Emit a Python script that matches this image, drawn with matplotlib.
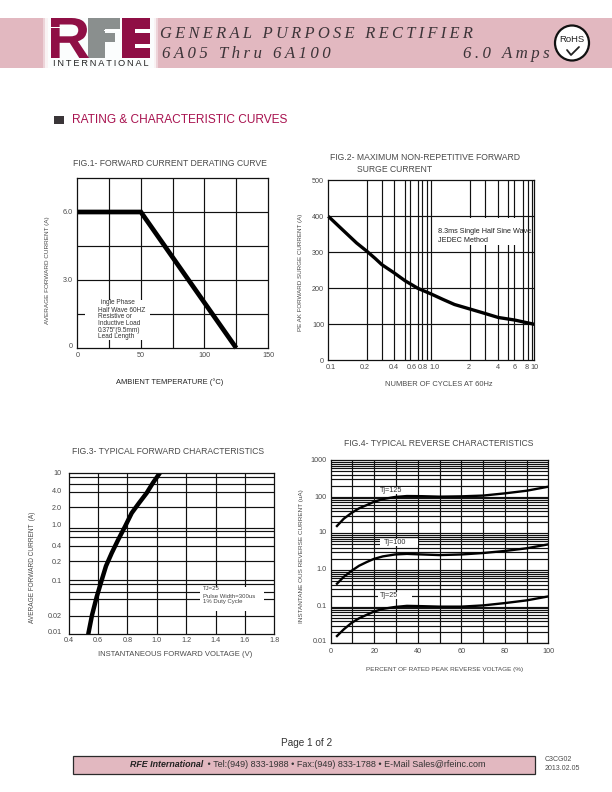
import matplotlib
matplotlib.use("Agg")
import matplotlib.pyplot as plt
from matplotlib.patches import Rectangle, Ellipse, PathPatch
from matplotlib.textpath import TextPath
from matplotlib.font_manager import FontProperties
from matplotlib.transforms import Affine2D

plt.rcParams['font.family'] = ['Liberation Sans', 'DejaVu Sans']

W, H = 612, 792
PINK = '#e2b8c0'
MAROON = '#8f0f45'
GREY = '#8a8f8e'
TXT = '#4a4a4a'

# ---------- data ----------
fig1_temp = [0, 50, 125]
fig1_current = [6.0, 6.0, 0.0]
fig1_xgrid = [25, 50, 75, 100, 125]
fig1_ygrid = [1.5, 3.0, 4.5, 6.0]
fig1_xticks = [0, 50, 100, 150]
fig1_xlabels = ['0', '50', '100', '150']
fig1_yticks = [0.1, 3.0, 6.0]
fig1_ylabels = ['0', '3.0', '6.0']

fig2_cycles = [0.1, 0.137, 0.188, 0.239, 0.285, 0.33, 0.435, 0.556, 0.74, 1.0, 1.3, 1.68, 2.4, 3.33, 4.46, 6.4, 10]
fig2_surge = [400, 363, 326, 302, 283, 266, 243, 221, 200, 184, 169, 155, 142, 130, 119, 112, 100]
fig2_xgrid = [0.239, 0.333, 0.435, 0.556, 0.62, 0.74, 0.82, 0.90, 1.0, 2.4, 3.33, 4.46, 5.6, 6.4, 7.7, 8.75, 9.55]
fig2_ygrid = [100, 200, 300, 400]
fig2_xticks = [0.105, 0.225, 0.43, 0.64, 0.83, 1.07, 2.3, 4.45, 6.4, 8.5, 10]
fig2_xlabels = ['0.1', '0.2', '0.4', '0.6', '0.8', '1.0', '2', '4', '6', '8', '10']
fig2_yticks = [0, 100, 200, 300, 400, 500]
fig2_ylabels = ['0', '100', '200', '300', '400', '500']

fig3_voltage = [0.533, 0.559, 0.591, 0.625, 0.654, 0.693, 0.736, 0.783, 0.829, 0.879, 0.931, 0.973, 1.022]
fig3_current = [0.01, 0.0228, 0.0499, 0.102, 0.185, 0.323, 0.563, 0.995, 1.786, 2.74, 4.2, 6.44, 10]
fig3_xgrid = [0.6, 0.8, 1.0, 1.2, 1.4, 1.6]
fig3_ygrid = [8.2, 6.07, 4.32, 2.27, 0.95, 0.815, 0.63, 0.43, 0.226, 0.1, 0.085, 0.062, 0.0447, 0.0222]
fig3_xticks = [0.4, 0.6, 0.8, 1.0, 1.2, 1.4, 1.6, 1.8]
fig3_xlabels = ['0.4', '0.6', '0.8', '1.0', '1.2', '1.4', '1.6', '1.8']
fig3_yticks = [0.0112, 0.0222, 0.1, 0.226, 0.436, 1.08, 2.27, 4.63, 10]
fig3_ylabels = ['0.01', '0.02', '0.1', '0.2', '0.4', '1.0', '2.0', '4.0', '10']

fig4_percent = [2.5, 6, 9.6, 13, 16.6, 19.8, 24, 29.6, 35, 42, 50, 60, 70, 80, 90, 100]
fig4_tj125 = [15, 25, 36, 48, 59, 72, 86, 98, 104, 103, 100, 102, 107, 123, 145, 187]
fig4_tj100 = [0.4, 0.65, 0.95, 1.3, 1.65, 2.0, 2.35, 2.65, 2.75, 2.65, 2.55, 2.65, 2.9, 3.3, 3.9, 5.0]
fig4_tj25 = [0.015, 0.024, 0.036, 0.048, 0.06, 0.073, 0.087, 0.098, 0.105, 0.103, 0.1, 0.1, 0.108, 0.125, 0.148, 0.19]
fig4_xgrid = [10, 20, 30, 40, 50, 60, 70, 80, 90]
fig4_mantissa = [1, 2, 3, 4, 5, 6, 7, 8, 9]
fig4_decades = [0.01, 0.1, 1, 10, 100]
fig4_xticks = [0, 20, 40, 60, 80, 100]
fig4_xlabels = ['0', '20', '40', '60', '80', '100']
fig4_yticks = [0.0118, 0.107, 1.11, 11.1, 100, 1000]
fig4_ylabels = ['0.01', '0.1', '1.0', '10', '100', '1000']

# ---------- figure and page overlay in pixel units ----------
fig = plt.figure(figsize=(W / 100, H / 100), dpi=100, facecolor='white')
page = fig.add_axes([0, 0, 1, 1], zorder=0)
page.set_xlim(0, W)
page.set_ylim(H, 0)
page.axis('off')


def make_axes(left, top, right, bottom):
    return fig.add_axes([left / W, 1 - bottom / H, (right - left) / W, (bottom - top) / H], zorder=1)


def spaced(s, gap='\u2009'):
    return gap.join(s)


def txt(x, y, s, size=5.4, ha='center', va='center', color=TXT, **kw):
    page.text(x, y, s, fontsize=size, ha=ha, va=va, color=color, **kw)


def glyph(ch, x0, y0, x1, y1, color):
    tp = TextPath((0, 0), ch, size=10, prop=FontProperties(family='Liberation Sans', weight='bold'))
    bb = tp.get_extents()
    tr = (Affine2D().translate(-bb.x0, -bb.y0)
          .scale((x1 - x0) / bb.width, -(y1 - y0) / bb.height)
          .translate(x0, y1))
    page.add_patch(PathPatch(tr.transform_path(tp), fc=color, ec='none'))


# header band
page.add_patch(Rectangle((0, 18), W, 50, fc=PINK, ec='none'))
page.add_patch(Rectangle((43, 18), 115, 50, fc='white', ec='none', alpha=0.4))
page.add_patch(Rectangle((45, 18), 111, 50, fc='white', ec='none', alpha=0.7))
page.add_patch(Rectangle((48, 18), 106, 50, fc='#fbfdfd', ec='none'))
# RFE logo
page.add_patch(Rectangle((88, 18), 32, 11, fc=GREY, ec='none'))
page.add_patch(Rectangle((88, 18), 17, 40, fc=GREY, ec='none'))
page.add_patch(Rectangle((105, 33), 10, 9, fc=GREY, ec='none'))
page.add_patch(Rectangle((104, 30), 16, 1.2, fc='white', ec='none'))
glyph('R', 51, 18, 89, 58, MAROON)
page.add_patch(Rectangle((51, 27), 13, 1, fc='white', ec='none'))
page.add_patch(Rectangle((122, 18), 28, 40, fc=MAROON, ec='none'))
page.add_patch(Rectangle((135, 29), 15, 4, fc='white', ec='none'))
page.add_patch(Rectangle((135, 44), 15, 4, fc='white', ec='none'))
txt(100.5, 63.5, spaced('INTERNATIONAL'), size=6.6, color='#222222')

serif = ['Liberation Serif', 'DejaVu Serif']
HEAD = '#3c3438'
txt(160, 34, spaced('GENERAL PURPOSE RECTIFIER'), size=11.9, ha='left', color=HEAD, family=serif, style='italic')
txt(162, 54.5, spaced('6A05 Thru 6A100'), size=12.2, ha='left', color=HEAD, family=serif, style='italic')
txt(550, 54.5, spaced('6.0 Amps'), size=12.2, ha='right', color=HEAD, family=serif, style='italic')

# RoHS mark
page.add_patch(Ellipse((572, 43), 34, 35, fc='white', ec='#111111', lw=1.6))
txt(572, 40, 'RoHS', size=6.8, color='#222222')
page.plot([567, 571, 579], [50, 55, 47], color='#222222', lw=1.3, solid_capstyle='round')

# section heading
page.add_patch(Rectangle((54, 116), 10, 8, fc='#3a3538', ec='none'))
txt(71.5, 120, 'RATING & CHARACTERISTIC CURVES', size=8.6, ha='left', color='#a8124f')

# footer
txt(307, 742.5, 'Page 1 of 2', size=7.2, color='#333333')
page.add_patch(Rectangle((72.5, 755.5), 462, 18, fc=PINK, ec='#2a2a2a', lw=0.9))
txt(130.5, 764.5, 'RFE International', size=6.4, ha='left', color='#222222', weight='bold', style='italic')
txt(205, 764.5, ' \u2022 Tel:(949) 833-1988 \u2022 Fax:(949) 833-1788 \u2022 E-Mail Sales@rfeinc.com', size=6.45, ha='left', color='#333333')
txt(544.5, 759.5, 'C3CG02', size=5, ha='left')
txt(544.5, 768.5, '2013.02.05', size=5, ha='left')


def style(ax, xticks, xlabels, yticks, ylabels, xpad, ypad, size=5.2, xsize=None):
    ax.set_xticks(xticks, xlabels, fontsize=xsize or size, color=TXT)
    ax.set_yticks(yticks, ylabels, fontsize=size, color=TXT)
    ax.minorticks_off()
    ax.tick_params(axis='x', length=0, pad=xpad)
    ax.tick_params(axis='y', length=0, pad=ypad)
    for sp in ax.spines.values():
        sp.set_linewidth(0.9)
        sp.set_color('#111111')
        sp.set_zorder(5)


def white_box(ax, x0, y0, x1, y1):
    # pixel-positioned knock-out behind an annotation
    ax.add_patch(Rectangle((x0, y0), x1 - x0, y1 - y0, fc='white', ec='none', zorder=2,
                           transform=page.transData))


GL = dict(color='#111111', lw=0.85, zorder=1)
TITLE = 6.25

# ---------- FIG.1 ----------
ax1 = make_axes(77.3, 178, 268, 348)
ax1.set_xlim(0, 150)
ax1.set_ylim(0, 7.5)
ax1.vlines(fig1_xgrid, 0, 7.5, **GL)
ax1.hlines(fig1_ygrid, 0, 150, **GL)
white_box(ax1, 85, 300, 150, 340)
ax1.plot(fig1_temp, fig1_current, color='black', lw=3.4, zorder=3, clip_on=False, solid_capstyle='butt', solid_joinstyle='miter')
style(ax1, fig1_xticks, fig1_xlabels, fig1_yticks, fig1_ylabels, 3, 3)
txt(170, 164, 'FIG.1- FORWARD CURRENT DERATING CURVE', size=TITLE)
txt(170, 382, 'AMBIENT TEMPERATURE (\u00b0C)', size=5.45, color='#222222')
txt(47, 270.5, 'AVERAGE FORWARD CURRENT (A)', size=4.6, rotation=90)
note1 = ['ingle Phase', 'Half Wave 60HZ', 'Resistive or', 'Inductive Load', '0.375"(9.5mm)', 'Lead Length']
for s, y, x in zip(note1, [303, 310, 316, 323, 330, 337], [101, 97.5, 97.5, 97.5, 97.5, 97.5]):
    fig.text(x / W, 1 - y / H, s, fontsize=4.7, ha='left', va='center', color='#333333', zorder=4)

# ---------- FIG.2 ----------
ax2 = make_axes(328.3, 180.3, 534.3, 360.3)
ax2.set_xscale('log')
ax2.set_xlim(0.1, 10)
ax2.set_ylim(0, 500)
ax2.vlines(fig2_xgrid, 0, 500, **GL)
ax2.hlines(fig2_ygrid, 0.1, 10, **GL)
white_box(ax2, 437, 218, 521, 245)
ax2.plot(fig2_cycles, fig2_surge, color='black', lw=2.4, zorder=3, clip_on=False, solid_capstyle='butt')
style(ax2, fig2_xticks, fig2_xlabels, fig2_yticks, fig2_ylabels, 3, 3)
txt(330.5, 158, 'FIG.2- MAXIMUM NON-REPETITIVE FORWARD', size=TITLE, ha='left')
txt(357, 169.5, 'SURGE CURRENT', size=TITLE, ha='left')
txt(439, 384.5, 'NUMBER OF CYCLES AT 60Hz', size=5.4)
txt(300.5, 272.5, 'PE AK FORWARD SURGE CURRENT (A)', size=4.5, rotation=90)
fig.text(438 / W, 1 - 231.5 / H, '8.3ms Single Half Sine Wave', fontsize=5.2, va='center', color='#222222', zorder=4)
fig.text(438 / W, 1 - 240 / H, 'JEDEC Method', fontsize=5.2, va='center', color='#222222', zorder=4)

# ---------- FIG.3 ----------
ax3 = make_axes(68.7, 472.7, 274.3, 634.3)
ax3.set_yscale('log')
ax3.set_xlim(0.4, 1.8)
ax3.set_ylim(0.01, 10)
ax3.vlines(fig3_xgrid, 0.01, 10, **GL)
ax3.hlines(fig3_ygrid, 0.4, 1.8, **GL)
white_box(ax3, 200, 587, 264, 611)
ax3.plot(fig3_voltage, fig3_current, color='black', lw=3.2, zorder=3, clip_on=True, solid_capstyle='butt')
style(ax3, fig3_xticks, fig3_xlabels, fig3_yticks, fig3_ylabels, 2, 5)
txt(168, 451, 'FIG.3- TYPICAL FORWARD CHARACTERISTICS', size=TITLE)
txt(175.5, 654, 'INSTANTANEOUS FORWARD VOLTAGE (V)', size=5.5)
txt(32, 567, 'AVERAGE FORWARD CURRENT  (A)', size=4.7, rotation=90)
for s, y in zip(['TJ=25', 'Pulse Width=300us', '1% Duty Cycle'], [589, 596, 602]):
    fig.text(203 / W, 1 - y / H, s, fontsize=4.3, va='center', color='#444444', zorder=4)

# ---------- FIG.4 ----------
ax4 = make_axes(330.7, 460, 548.3, 643.3)
ax4.set_yscale('log')
ax4.set_xlim(0, 100)
ax4.set_ylim(0.01, 1000)
ax4.vlines(fig4_xgrid, 0.01, 1000, **GL)
ax4.hlines([d * m for d in fig4_decades for m in fig4_mantissa], 0, 100, **GL)
white_box(ax4, 378, 487, 415, 494)
white_box(ax4, 380, 539, 418, 546)
white_box(ax4, 378, 592, 412, 599)
for series in (fig4_tj125, fig4_tj100, fig4_tj25):
    ax4.plot(fig4_percent, series, color='black', lw=1.7, zorder=3, solid_capstyle='butt')
style(ax4, fig4_xticks, fig4_xlabels, fig4_yticks, fig4_ylabels, 3.5, 3)
txt(439, 444, 'FIG.4- TYPICAL REVERSE CHARACTERISTICS', size=TITLE)
txt(445, 669, 'PERCENT OF RATED PEAK REVERSE VOLTAGE (%)', size=4.6)
txt(301, 556, 'INSTANTANE OUS REVERSE CURRENT (uA)', size=4.6, rotation=90)
for s, x, y in zip(['Tj=125', 'Tj=100', 'Tj=25'], [380, 384, 380], [490.5, 542.5, 595.5]):
    fig.text(x / W, 1 - y / H, s, fontsize=5.2, va='center', color='#333333', zorder=4)

fig.savefig('out.png', dpi=100, facecolor='white')
